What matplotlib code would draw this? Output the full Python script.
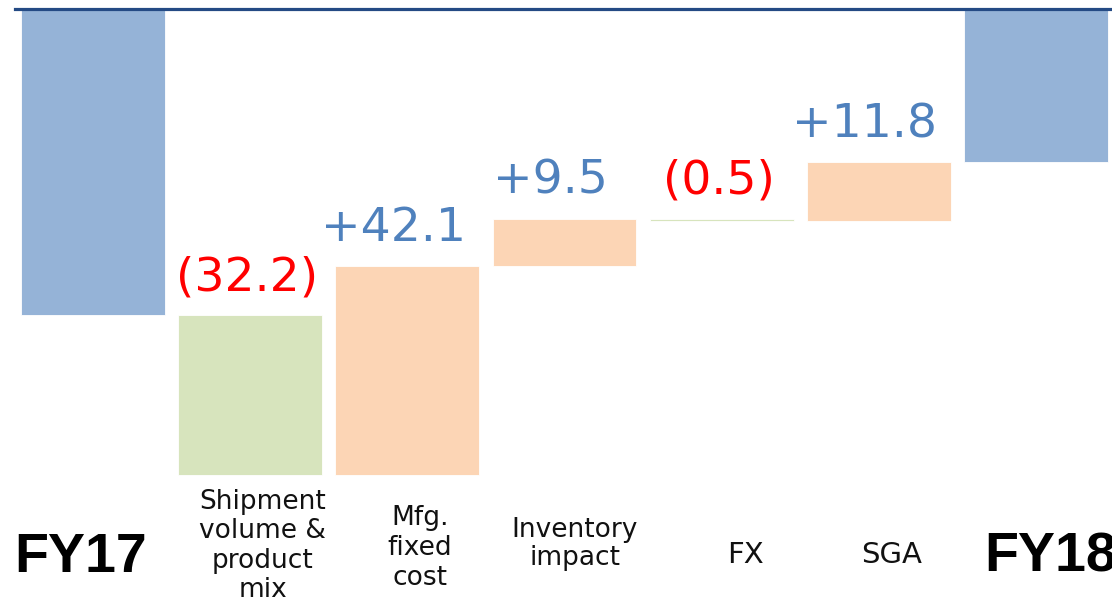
import matplotlib
matplotlib.use("Agg")
import matplotlib.pyplot as plt
import numpy as np

# ---- data ----
categories = ["FY17", "Shipment\nvolume &\nproduct\nmix", "Mfg.\nfixed\ncost",
              "Inventory\nimpact", "FX", "SGA", "FY18"]
start_value = -61.5
deltas = [-32.2, 42.1, 9.5, -0.5, 11.8]

# ---- style ----
total_color = "#95B3D7"
neg_color = "#D7E4BD"
pos_color = "#FCD5B5"
pos_text = "#4F81BD"
neg_text = "#FF0000"
line_color = "#244A84"

W, H = 1112, 598
fig = plt.figure(figsize=(W / 100, H / 100), dpi=100)
ax = fig.add_axes([0, 0, 1, 1])
ax.set_xlim(-0.5917, 6.4834)
ax.set_ylim(-118.53, 1.913)
ax.axis("off")

width = 0.916
levels = np.concatenate([[start_value], start_value + np.cumsum(deltas)])
end_value = levels[-1]
n = len(categories)

# totals
ax.bar([0, n - 1], [start_value, end_value], width=width, color=total_color,
       edgecolor="white", linewidth=0.6, zorder=2)

# deltas
for i, d in enumerate(deltas):
    prev = levels[i]
    col = pos_color if d > 0 else neg_color
    ax.bar(i + 1, d, bottom=prev, width=width, color=col,
           edgecolor="white", linewidth=0.6, zorder=2)
    top = max(prev, prev + d)
    if d > 0:
        label, tcol, xoff = f"+{d:.1f}", pos_text, -0.09
    else:
        label, tcol, xoff = f"({abs(d):.1f})", neg_text, -0.02
    ax.text(i + 1 + xoff, top + 5.0, label, ha="center", va="baseline",
            fontsize=34, color=tcol, family="DejaVu Sans")

# top line (zero line)
ax.axhline(0, xmin=15 / W, xmax=1, color=line_color, lw=2.3, zorder=5)

# category labels: (x offset in data units, last-line baseline in px from top, linespacing)
label_layout = [(-0.08, 572, 1.2), (0.08, 597, 1.17), (0.08, 585, 1.2),
                (0.065, 565, 1.12), (0.15, 563, 1.2), (0.08, 563, 1.2),
                (0.09, 572, 1.2)]
for i, (cat, (xo, py, ls)) in enumerate(zip(categories, label_layout)):
    yf = 1 - py / H
    if i in (0, n - 1):
        ax.text(i + xo, yf, cat, transform=ax.get_xaxis_transform(),
                ha="center", va="baseline", fontsize=40, fontweight="bold",
                family="Liberation Sans", color="black", clip_on=False)
    else:
        fs = 21 if "\n" not in cat else 19
        ax.text(i + xo, yf, cat, transform=ax.get_xaxis_transform(),
                ha="center", va="baseline", fontsize=fs, linespacing=ls,
                family="DejaVu Sans", color="#111111")

fig.savefig("out.png", dpi=100)
